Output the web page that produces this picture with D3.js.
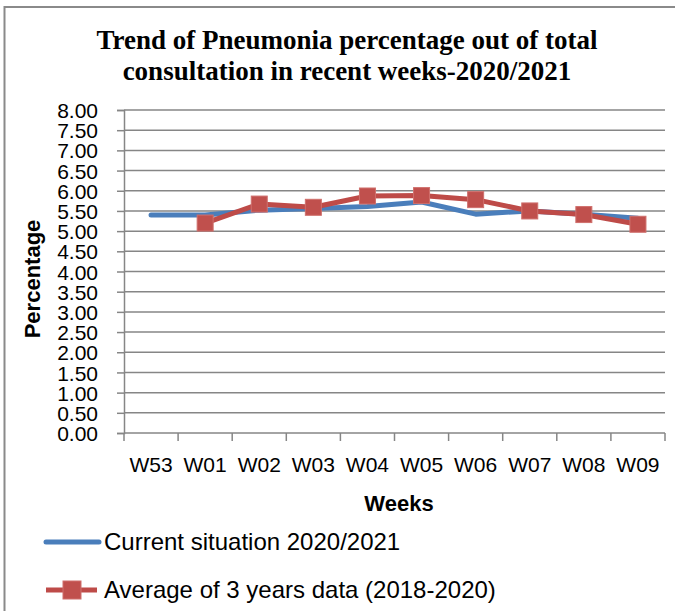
<!DOCTYPE html>
<html lang="en">
<head>
    <meta charset="UTF-8">
    <title>Pneumonia trend</title>
    <script src="https://d3js.org/d3.v7.min.js"></script>
    <style>
        body { margin: 0; background: #fff; }
        text { font-family: "Liberation Sans", Arial, sans-serif; fill: #000; }
    </style>
</head>
<body>
    <div id="chart"></div>
    <script>
        // data
        const weeks = ["W53", "W01", "W02", "W03", "W04", "W05", "W06", "W07", "W08", "W09"];
        const current = [5.40, 5.40, 5.52, 5.56, 5.61, 5.72, 5.42, 5.50, 5.42, 5.32];
        const average = [null, 5.20, 5.67, 5.59, 5.87, 5.88, 5.78, 5.50, 5.41, 5.17];
        const yTicks = d3.range(0, 8.01, 0.5);

        const width = 675, height = 611;
        const plot = { left: 124, right: 665, top: 110, bottom: 433 };

        const svg = d3.select("#chart").append("svg")
            .attr("width", width)
            .attr("height", height);

        // outer chart frame
        svg.append("rect")
            .attr("x", 4.5).attr("y", 7)
            .attr("width", 700).attr("height", 700)
            .attr("fill", "none")
            .attr("stroke", "#8a8a8a")
            .attr("stroke-width", 2);

        // title
        const title = svg.append("text")
            .attr("text-anchor", "middle")
            .style("font-family", "'Liberation Serif', 'Times New Roman', serif")
            .style("font-weight", "bold")
            .style("font-size", "27px");
        title.append("tspan").attr("x", 347).attr("y", 49).text("Trend of Pneumonia percentage out of total");
        title.append("tspan").attr("x", 347).attr("y", 80).text("consultation in recent weeks-2020/2021");

        const x = d3.scaleBand()
            .domain(weeks)
            .range([plot.left, plot.right]);

        const y = d3.scaleLinear()
            .domain([0, 8])
            .range([plot.bottom, plot.top]);

        const cx = d => x(d) + x.bandwidth() / 2;

        // horizontal gridlines
        svg.append("g")
            .selectAll("line")
            .data(yTicks.filter(d => d > 0))
            .join("line")
            .attr("x1", plot.left).attr("x2", plot.right)
            .attr("y1", d => y(d)).attr("y2", d => y(d))
            .attr("stroke", "#868686")
            .attr("stroke-width", 1.5);

        // y axis
        const yAxis = svg.append("g")
            .attr("transform", `translate(${plot.left},0)`)
            .call(d3.axisLeft(y).tickValues(yTicks).tickFormat(d3.format(".2f")).tickSize(7).tickPadding(19));
        yAxis.select(".domain").attr("stroke", "#868686").attr("stroke-width", 1.5);
        yAxis.selectAll(".tick line").attr("stroke", "#868686").attr("stroke-width", 1.5);
        yAxis.selectAll(".tick text")
            .attr("dy", "0.36em")
            .style("font-family", "'Liberation Sans', Arial, sans-serif")
            .style("font-size", "21px")
            .attr("fill", "#000");

        // x axis: ticks between categories
        const xAxis = svg.append("g")
            .attr("transform", `translate(0,${plot.bottom})`);
        xAxis.append("line")
            .attr("x1", plot.left).attr("x2", plot.right)
            .attr("stroke", "#868686").attr("stroke-width", 1.5);
        const bounds = weeks.map(w => x(w)).concat([plot.right]);
        xAxis.selectAll("line.tk")
            .data(bounds)
            .join("line")
            .attr("class", "tk")
            .attr("x1", d => d).attr("x2", d => d)
            .attr("y1", 0).attr("y2", 8)
            .attr("stroke", "#868686").attr("stroke-width", 1.5);
        xAxis.selectAll("text")
            .data(weeks)
            .join("text")
            .attr("x", d => cx(d))
            .attr("y", 39)
            .attr("text-anchor", "middle")
            .style("font-size", "21px")
            .text(d => d);

        // axis titles
        svg.append("text")
            .attr("transform", "translate(40,279) rotate(-90)")
            .attr("text-anchor", "middle")
            .style("font-weight", "bold")
            .style("font-size", "22px")
            .text("Percentage");

        svg.append("text")
            .attr("x", 399).attr("y", 511)
            .attr("text-anchor", "middle")
            .style("font-weight", "bold")
            .style("font-size", "22px")
            .text("Weeks");

        const blue = "#4a7ebb", red = "#be4b48";

        const line = d3.line()
            .defined(d => d.v != null)
            .x(d => cx(d.w))
            .y(d => y(d.v));

        const curData = weeks.map((w, i) => ({ w: w, v: current[i] }));
        const avgData = weeks.map((w, i) => ({ w: w, v: average[i] }));

        svg.append("path")
            .datum(curData)
            .attr("d", line)
            .attr("fill", "none")
            .attr("stroke", blue)
            .attr("stroke-width", 5)
            .attr("stroke-linecap", "round")
            .attr("stroke-linejoin", "round");

        svg.append("path")
            .datum(avgData)
            .attr("d", line)
            .attr("fill", "none")
            .attr("stroke", red)
            .attr("stroke-width", 5)
            .attr("stroke-linejoin", "round");

        const ms = 16;
        svg.append("g")
            .selectAll("rect")
            .data(avgData.filter(d => d.v != null))
            .join("rect")
            .attr("x", d => cx(d.w) - ms / 2)
            .attr("y", d => y(d.v) - ms / 2)
            .attr("width", ms).attr("height", ms)
            .attr("fill", "#c0504d")
            .attr("stroke", "#cf6f6c")
            .attr("stroke-width", 1);

        // legend
        const legend = svg.append("g");
        legend.append("line")
            .attr("x1", 46).attr("x2", 99).attr("y1", 542).attr("y2", 542)
            .attr("stroke", blue).attr("stroke-width", 5).attr("stroke-linecap", "round");
        legend.append("text")
            .attr("x", 104).attr("y", 550)
            .style("font-size", "24px")
            .text("Current situation 2020/2021");

        legend.append("line")
            .attr("x1", 46).attr("x2", 97).attr("y1", 590).attr("y2", 590)
            .attr("stroke", red).attr("stroke-width", 5);
        legend.append("rect")
            .attr("x", 63).attr("y", 581).attr("width", 18).attr("height", 18)
            .attr("fill", "#c0504d").attr("stroke", "#cf6f6c");
        legend.append("text")
            .attr("x", 104).attr("y", 598)
            .style("font-size", "24px")
            .text("Average of 3 years data (2018-2020)");
    </script>
</body>
</html>
